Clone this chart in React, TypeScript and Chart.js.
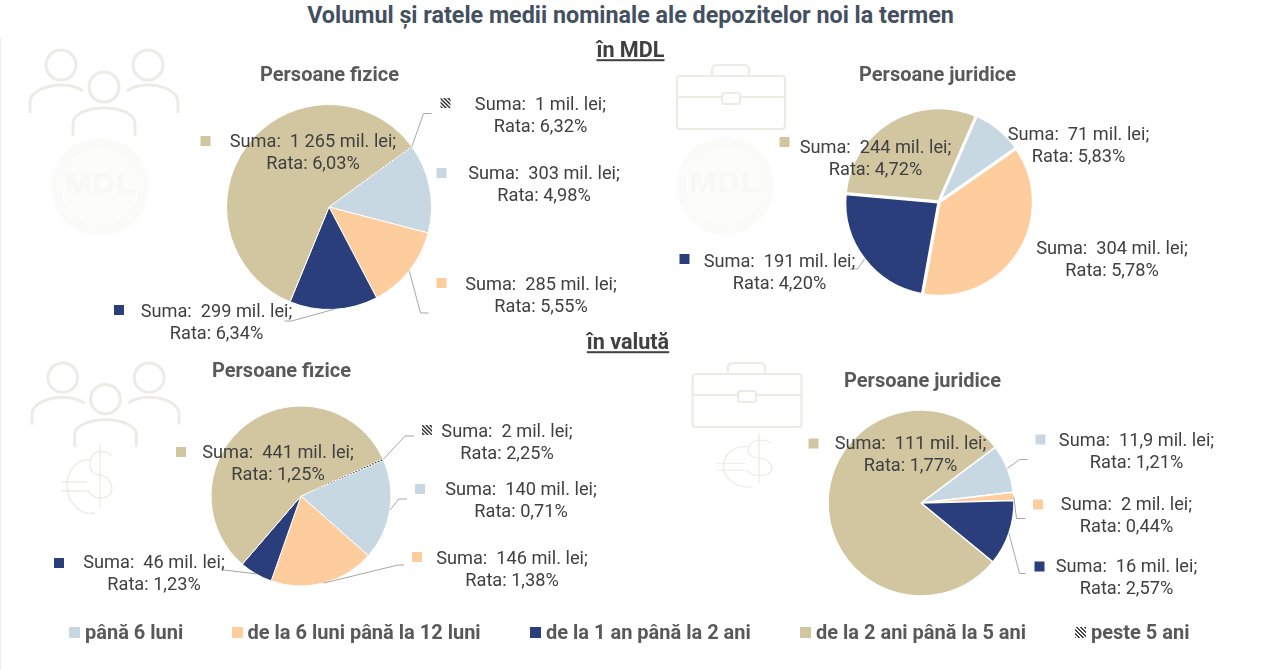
import React, { useEffect, useRef } from "react";
import { Chart, registerables } from "chart.js";

Chart.register(...registerables);

// ---------- data ----------
const categories = ["până 6 luni", "de la 6 luni până la 12 luni", "de la 1 an până la 2 ani", "de la 2 ani până la 5 ani", "peste 5 ani"];
const mdlFiziceSuma = [303, 285, 299, 1265, 1];
const mdlFiziceRata = [4.98, 5.55, 6.34, 6.03, 6.32];
const mdlJuridiceSuma = [71, 304, 191, 244, null];
const mdlJuridiceRata = [5.83, 5.78, 4.2, 4.72, null];
const valutaFiziceSuma = [140, 146, 46, 441, 2];
const valutaFiziceRata = [0.71, 1.38, 1.23, 1.25, 2.25];
const valutaJuridiceSuma = [11.9, 2, 16, 111, null];
const valutaJuridiceRata = [1.21, 0.44, 2.57, 1.77, null];

// ---------- styles / layout ----------
const TITLE = "Volumul și ratele medii nominale ale depozitelor noi la termen";
const SECTION_MDL = "în MDL";
const SECTION_VALUTA = "în valută";
const FIZICE = "Persoane fizice";
const JURIDICE = "Persoane juridice";
const FONT = "Roboto, sans-serif";
const COLORS = ["#c7d8e3", "#fecd9e", "#293e7a", "#d2c6a0"];
const ICON = "#ecebe6";
const BOX_W = 320;
const BOX_H = 140;

type Lab = { x: number; y: number; m?: [number, number]; l?: [number, number][] };

const pies = [
  {
    suma: mdlFiziceSuma, rata: mdlFiziceRata, cx: 328.5, cy: 207, r: 102.5, rot: 54, border: 1, offset: 0,
    labels: [
      { x: 543.5, y: 174, m: [436, 168] },
      { x: 540.5, y: 285, m: [436, 278], l: [[420, 313], [428, 313]] },
      { x: 216, y: 312, m: [113.5, 305], l: [[291, 321], [284, 321]] },
      { x: 312.5, y: 142, m: [200, 136] },
      { x: 540, y: 105, m: [440, 98], l: [[423, 113.5], [431, 113.5]] },
    ] as Lab[],
  },
  {
    suma: mdlJuridiceSuma, rata: mdlJuridiceRata, cx: 938.5, cy: 202, r: 93.5, rot: 23.5, border: 2.5, offset: 2,
    labels: [
      { x: 1078, y: 135 },
      { x: 1111.5, y: 249 },
      { x: 779, y: 262, m: [679, 254], l: [[857, 269], [849, 269]] },
      { x: 875, y: 148, m: [779, 137] },
      null,
    ] as (Lab | null)[],
  },
  {
    suma: valutaFiziceSuma, rata: valutaFiziceRata, cx: 301, cy: 496, r: 90, rot: 66.5, border: 1, offset: 0,
    labels: [
      { x: 521, y: 490, m: [415, 484], l: [[399, 499], [407, 499]] },
      { x: 512, y: 559, m: [412, 552], l: [[398, 565], [404, 565]] },
      { x: 154, y: 563, m: [54, 558], l: [[224.5, 570], [222, 570]] },
      { x: 278, y: 453, m: [176, 447] },
      { x: 507, y: 432, m: [422, 425], l: [[405, 436], [414, 436]] },
    ] as Lab[],
  },
  {
    suma: valutaJuridiceSuma, rata: valutaJuridiceRata, cx: 920.5, cy: 502.5, r: 93, rot: 53, border: 1.5, offset: 0,
    labels: [
      { x: 1136, y: 441, m: [1035, 434], l: [[1019, 459], [1027, 459]] },
      { x: 1126, y: 505, m: [1032.5, 499], l: [[1016, 518], [1025, 518]] },
      { x: 1126, y: 567, m: [1034, 561], l: [[1019, 573], [1025, 573]] },
      { x: 910, y: 444, m: [808, 438] },
      null,
    ] as (Lab | null)[],
  },
];

const legendItems = [
  { sw: 68.5, tx: 85 },
  { sw: 232, tx: 247.5 },
  { sw: 530, tx: 546 },
  { sw: 800, tx: 816 },
  { sw: 1075, tx: 1091 },
];

const fmtSuma = (v: number) => {
  if (v >= 1000) return `${Math.floor(v / 1000)} ${String(v % 1000).padStart(3, "0")}`;
  return String(v).replace(".", ",");
};
const fmtRata = (v: number) => v.toFixed(2).replace(".", ",") + "%";

function hatch(ctx: CanvasRenderingContext2D) {
  const c = document.createElement("canvas");
  c.width = 4;
  c.height = 4;
  const g = c.getContext("2d")!;
  g.fillStyle = "#fff";
  g.fillRect(0, 0, 4, 4);
  g.strokeStyle = "#333";
  g.lineWidth = 1.5;
  g.beginPath();
  g.moveTo(-1, -1); g.lineTo(5, 5);
  g.moveTo(3, -1); g.lineTo(5, 1);
  g.moveTo(-1, 3); g.lineTo(1, 5);
  g.stroke();
  return ctx.createPattern(c, "repeat")!;
}

function labelPlugin(p: any, left: number, top: number) {
  return {
    id: "pieLabels",
    afterDatasetsDraw(chart: any) {
      const ctx: CanvasRenderingContext2D = chart.ctx;
      const arcs = chart.getDatasetMeta(0).data;
      const pattern = hatch(ctx);
      ctx.save();
      p.labels.forEach((lab: Lab | null, i: number) => {
        if (!lab || p.suma[i] == null) return;
        const arc = arcs[i];
        if (lab.l) {
          const mid = (arc.startAngle + arc.endAngle) / 2;
          ctx.beginPath();
          ctx.moveTo(arc.x + Math.cos(mid) * arc.outerRadius, arc.y + Math.sin(mid) * arc.outerRadius);
          lab.l.forEach(([x, y]) => ctx.lineTo(x - left, y - top));
          ctx.strokeStyle = "#a6a6a6";
          ctx.lineWidth = 1;
          ctx.stroke();
        }
      });
      p.labels.forEach((lab: Lab | null, i: number) => {
        if (!lab || p.suma[i] == null) return;
        if (lab.m) {
          ctx.fillStyle = i < 4 ? COLORS[i] : pattern;
          ctx.fillRect(lab.m[0] - left, lab.m[1] - top, 10, 10);
        }
        ctx.fillStyle = "#404040";
        ctx.font = `18.2px ${FONT}`;
        ctx.textAlign = "center";
        ctx.textBaseline = "middle";
        ctx.fillText(`Suma:  ${fmtSuma(p.suma[i])} mil. lei;`, lab.x - left, lab.y - top);
        ctx.fillText(`Rata: ${fmtRata(p.rata[i])}`, lab.x - left, lab.y - top + 22);
      });
      ctx.restore();
    },
  };
}

// ---------- decorative icons ----------
const People = ({ tf }: { tf: string }) => (
  <g transform={tf} fill="none" stroke={ICON} strokeWidth={3}>
    <circle cx={61} cy={65} r={15} />
    <circle cx={148} cy={65} r={15} />
    <circle cx={104} cy={87} r={15} />
    <path d="M30 113 V102 C30 92 46 85 61 85 C70 85 77 87 83 91" />
    <path d="M178 113 V102 C178 92 163 85 148 85 C139 85 132 87 127 91" />
    <path d="M73 136 V123 C73 114 88 108 104 108 C120 108 135 114 135 123 V136" />
  </g>
);
const Case = ({ tf }: { tf: string }) => (
  <g transform={tf} fill="none" stroke={ICON} strokeWidth={2.2}>
    <rect x={677} y={76} width={108} height={53} rx={3} />
    <path d="M677 97 H722 M740 97 H785" />
    <rect x={722} y={93} width={18} height={11} rx={2.5} />
    <path d="M712 76 V70 Q712 65 717 65 H744 Q749 65 749 70 V76" />
  </g>
);
const Coin = ({ cx, cy }: { cx: number; cy: number }) => (
  <g>
    <circle cx={cx} cy={cy} r={49.5} fill="#fcfcfb" />
    <circle cx={cx} cy={cy} r={45} fill="none" stroke="#f9f9f7" strokeWidth={5} strokeDasharray="1.2 1.6" />
    <circle cx={cx} cy={cy} r={40.5} fill="none" stroke="#f9f9f7" strokeWidth={1} />
    <text x={cx} y={cy + 6} textAnchor="middle" textLength={71} lengthAdjust="spacingAndGlyphs" fontFamily="Liberation Sans, sans-serif" fontWeight="bold" fontSize={28} fill="#f8f8f6">MDL</text>
  </g>
);
const Money = ({ tf }: { tf: string }) => (
  <g transform={tf} fill="none" stroke={ICON} strokeWidth={1.3}>
    <path d="M100 443 V508" />
    <path d="M111 456 C108 451 104 451.5 100 451.5 C92 451.5 90 460 90 465 C90 472 95 475 100 475 C107 476 112 483 112 488 C112 495 107 498 100 498 C93 498 89 493 88 490" />
    <path d="M90 460 C76 458 67 472 67 486 C67 502 80 516 95 513" />
    <path d="M61 482 H87 M61 491 H87" />
  </g>
);

const abs = (x: number, y: number, extra: React.CSSProperties = {}): React.CSSProperties => ({
  position: "absolute",
  left: x,
  top: y,
  whiteSpace: "nowrap",
  transform: "translate(-50%,-50%)",
  fontFamily: FONT,
  fontWeight: 700,
  lineHeight: 1,
  ...extra,
});

export default function App() {
  const refs = useRef<(HTMLCanvasElement | null)[]>([]);

  useEffect(() => {
    const charts = pies.map((p, idx) => {
      const canvas = refs.current[idx]!;
      const ctx = canvas.getContext("2d")!;
      const left = p.cx - BOX_W;
      const top = p.cy - BOX_H;
      return new Chart(ctx, {
        type: "pie",
        data: {
          labels: categories,
          datasets: [
            {
              data: p.suma as number[],
              backgroundColor: [...COLORS, hatch(ctx)] as any,
              borderColor: "#ffffff",
              borderWidth: [p.border, p.border, p.border, p.border, 0],
              offset: p.offset,
            },
          ],
        },
        options: {
          animation: false,
          responsive: false,
          devicePixelRatio: 1,
          radius: p.r,
          rotation: p.rot,
          layout: { padding: 0 },
          plugins: { legend: { display: false }, tooltip: { enabled: false }, title: { display: false } },
        } as any,
        plugins: [labelPlugin(p, left, top)],
      });
    });
    return () => charts.forEach((c) => c.destroy());
  }, []);

  return (
    <div style={{ position: "absolute", left: 0, top: 0, width: 1261, height: 670, background: "#fff", overflow: "hidden" }}>
      <div style={{ position: "absolute", left: 0, top: 38, width: 1, height: 632, background: "#eeeeee" }} />
      <svg width={1261} height={670} style={{ position: "absolute", left: 0, top: 0 }}>
        <People tf="" />
        <Coin cx={100} cy={187} />
        <Case tf="" />
        <Coin cx={725} cy={186} />
        <People tf="translate(2.2,314.2) scale(0.993,0.977)" />
        <Money tf="" />
        <Case tf="translate(9.5,298) scale(1.009,1)" />
        <Money tf="translate(651,97) scale(1.08,0.76)" />
      </svg>

      {pies.map((p, i) => (
        <canvas
          key={i}
          ref={(el) => { refs.current[i] = el; }}
          width={BOX_W * 2}
          height={BOX_H * 2}
          style={{ position: "absolute", left: p.cx - BOX_W, top: p.cy - BOX_H, width: BOX_W * 2, height: BOX_H * 2 }}
        />
      ))}

      <div style={abs(630.5, 16, { fontSize: 23.3, color: "#44505f" })}>{TITLE}</div>
      <div style={abs(630.5, 50, { fontSize: 21.6, color: "#404040", textDecoration: "underline" })}>{SECTION_MDL}</div>
      <div style={abs(628, 342, { fontSize: 21.6, color: "#404040", textDecoration: "underline" })}>{SECTION_VALUTA}</div>
      <div style={abs(329.5, 74, { fontSize: 20, color: "#595959" })}>{FIZICE}</div>
      <div style={abs(937.5, 74, { fontSize: 20, color: "#595959" })}>{JURIDICE}</div>
      <div style={abs(281.5, 370, { fontSize: 20, color: "#595959" })}>{FIZICE}</div>
      <div style={abs(922.5, 380, { fontSize: 20, color: "#595959" })}>{JURIDICE}</div>

      {categories.map((c, i) => (
        <React.Fragment key={c}>
          <div
            style={{
              position: "absolute",
              left: legendItems[i].sw,
              top: 627,
              width: 11,
              height: 11,
              background: i < 4 ? COLORS[i] : "repeating-linear-gradient(45deg,#444 0 1.4px,#fff 1.4px 2.8px)",
            }}
          />
          <div style={{ ...abs(legendItems[i].tx, 632, { fontSize: 20, color: "#595959" }), transform: "translateY(-50%)" }}>{c}</div>
        </React.Fragment>
      ))}
    </div>
  );
}
